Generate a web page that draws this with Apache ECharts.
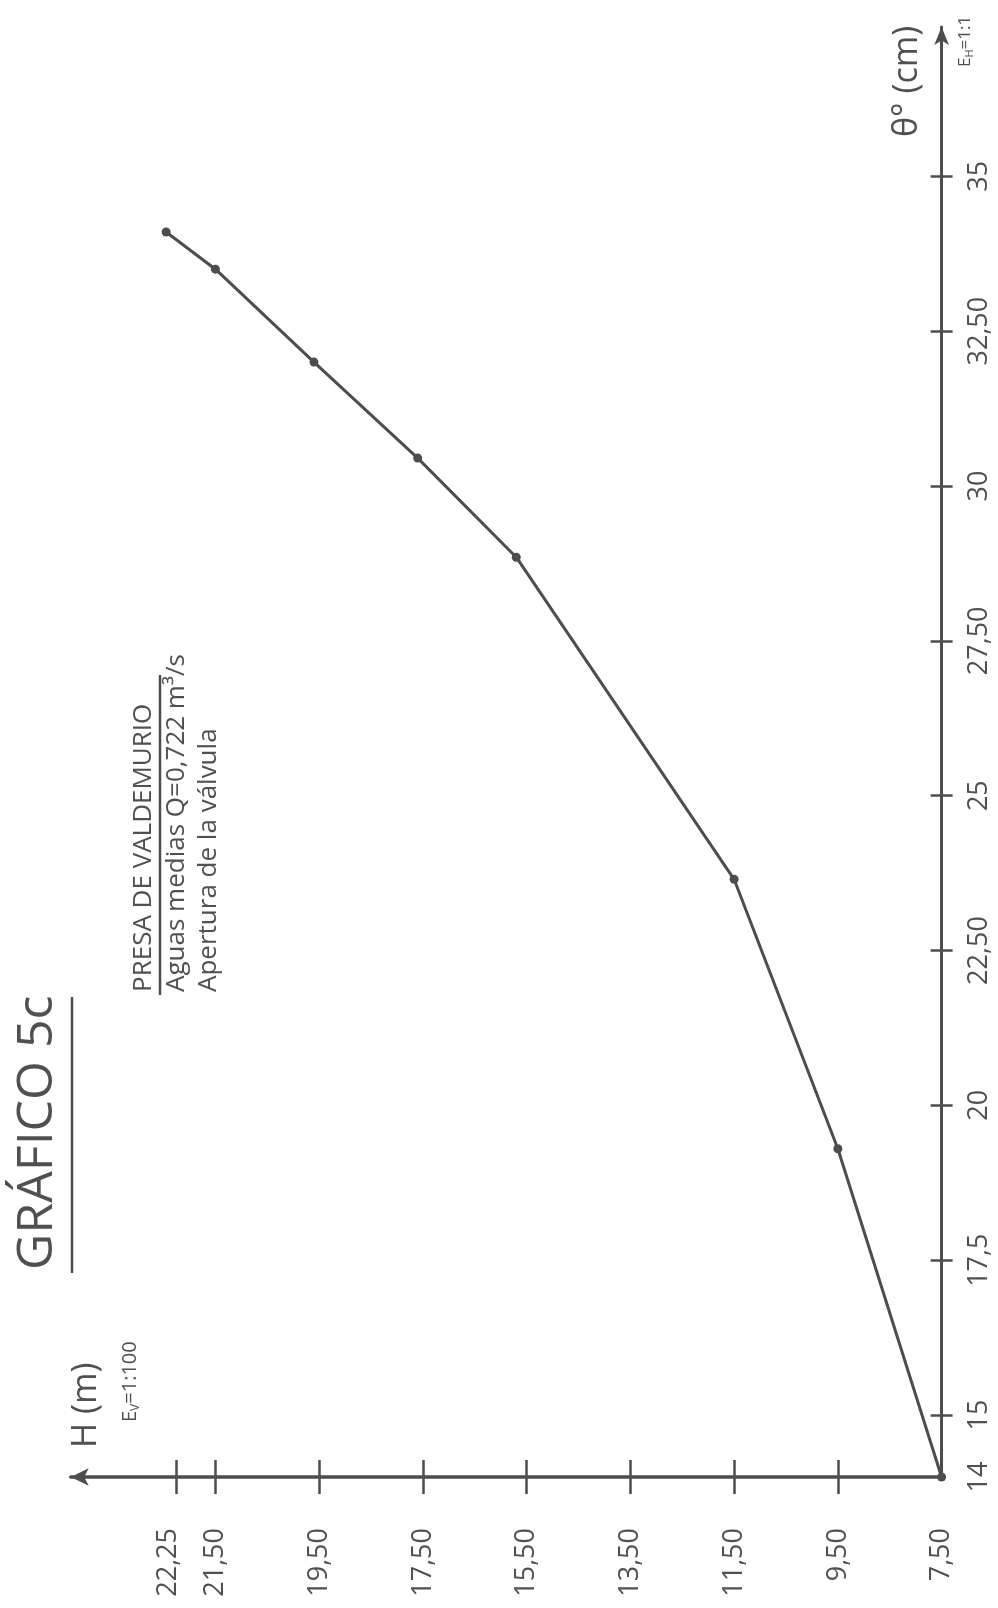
<!DOCTYPE html>
<html>
<head>
<meta charset="utf-8">
<script src="https://cdn.jsdelivr.net/npm/echarts@6/dist/echarts.min.js"></script>
<style>
  html, body { margin: 0; padding: 0; background: #ffffff; }
  #chart { width: 998px; height: 1608px; }
</style>
</head>
<body>
<div id="chart"></div>
<script>
// ---- data ----
const hValues = [7.5, 9.5, 11.5, 15.7, 17.6, 19.6, 21.5, 22.45];       // H (m)
const thetaValues = [14, 19.3, 23.65, 28.85, 30.45, 32.0, 33.5, 34.1]; // θ° (cm)

const hLabelValues = [7.5, 9.5, 11.5, 13.5, 15.5, 17.5, 19.5, 21.5, 22.25];
const hTickLabels = ['7,50', '9,50', '11,50', '13,50', '15,50', '17,50', '19,50', '21,50', '22,25'];
const hTickValues = [9.5, 11.5, 13.5, 15.5, 17.5, 19.5, 21.5, 22.25];

const thetaLabelValues = [14, 15, 17.5, 20, 22.5, 25, 27.5, 30, 32.5, 35];
const thetaTickLabels = ['14', '15', '17,5', '20', '22,50', '25', '27,50', '30', '32,50', '35'];
const thetaTickValues = [15, 17.5, 20, 22.5, 25, 27.5, 30, 32.5, 35];

const titleText = 'GRÁFICO 5c';
const subtitleLines = ['PRESA DE VALDEMURIO', 'Aguas medias Q=0,722 m³/s', 'Apertura de la válvula'];

// ---- style ----
const INK = '#4d4d4d';
const TXT = '#505050';
const FONT = '"Open Sans", "Noto Sans", sans-serif';

function findLabel(values, labels, v) {
  for (let i = 0; i < values.length; i++) {
    if (Math.abs(values[i] - v) < 1e-6) return labels[i];
  }
  return '';
}

const pairs = hValues.map((h, i) => [h, thetaValues[i]]);

const chart = echarts.init(document.getElementById('chart'), null, { renderer: 'canvas' });

const labelStyle = { color: TXT, fontFamily: FONT, fontSize: 27 };

const option = {
  backgroundColor: '#ffffff',
  animation: false,
  grid: { left: 70.7, right: 56.4, top: 27, bottom: 131, containLabel: false },
  xAxis: [
    {
      type: 'value', position: 'bottom', inverse: true,
      min: 7.5, max: 24.29,
      axisLine: { show: true, onZero: false, lineStyle: { color: INK, width: 3.5 },
                  symbol: ['arrow', 'none'], symbolSize: [13, 18] },
      axisTick: { show: true, inside: false, length: 17, customValues: hTickValues,
                  lineStyle: { color: INK, width: 2.5 } },
      axisLabel: Object.assign({}, labelStyle, {
        show: true, rotate: 90, margin: 51, customValues: hLabelValues,
        formatter: function (v) {
          const s = findLabel(hLabelValues, hTickLabels, v);
          return Math.abs(v - 22.25) < 1e-6 ? '{s|' + s + '}' : s;
        },
        rich: { s: { fontFamily: FONT, fontSize: 27, color: TXT, padding: [0, 0, 16, 0] } }
      }),
      splitLine: { show: false }
    },
    {
      type: 'value', position: 'bottom', inverse: true,
      min: 7.5, max: 24.29,
      axisLine: { show: false, onZero: false },
      axisTick: { show: true, inside: true, length: 17, customValues: hTickValues,
                  lineStyle: { color: INK, width: 2.5 } },
      axisLabel: { show: false },
      splitLine: { show: false }
    }
  ],
  yAxis: [
    {
      type: 'value', position: 'right',
      min: 14, max: 37.41,
      axisLine: { show: true, onZero: false, lineStyle: { color: INK, width: 3 },
                  symbol: ['none', 'arrow'], symbolSize: [11, 18] },
      axisTick: { show: true, inside: false, length: 11, customValues: thetaTickValues,
                  lineStyle: { color: INK, width: 2.5 } },
      axisLabel: Object.assign({}, labelStyle, {
        show: true, rotate: 90, margin: 24, customValues: thetaLabelValues,
        formatter: function (v) { return findLabel(thetaLabelValues, thetaTickLabels, v); }
      }),
      splitLine: { show: false }
    },
    {
      type: 'value', position: 'right',
      min: 14, max: 37.41,
      axisLine: { show: false, onZero: false },
      axisTick: { show: true, inside: true, length: 11, customValues: thetaTickValues,
                  lineStyle: { color: INK, width: 2.5 } },
      axisLabel: { show: false },
      splitLine: { show: false }
    }
  ],
  series: [
    {
      type: 'line',
      xAxisIndex: 0, yAxisIndex: 0,
      data: pairs,
      symbol: 'circle', symbolSize: 9,
      showSymbol: true,
      itemStyle: { color: INK },
      lineStyle: { color: INK, width: 3 },
      z: 5
    }
  ],
  graphic: [
    { type: 'text', x: 38, y: 1270, rotation: Math.PI / 2,
      style: { text: titleText, fill: TXT, font: '50px ' + FONT, align: 'left', verticalAlign: 'middle' } },
    { type: 'line', shape: { x1: 72, y1: 1273, x2: 72, y2: 997 },
      style: { stroke: INK, lineWidth: 2.5 } },

    { type: 'text', x: 143.5, y: 992, rotation: Math.PI / 2,
      style: { text: subtitleLines[0], fill: TXT, font: '26px ' + FONT, align: 'left', verticalAlign: 'middle' } },
    { type: 'line', shape: { x1: 160, y1: 995, x2: 160, y2: 675 },
      style: { stroke: INK, lineWidth: 2.5 } },
    { type: 'text', x: 177, y: 992, rotation: Math.PI / 2,
      style: { text: subtitleLines[1], fill: TXT, font: '26px ' + FONT, align: 'left', verticalAlign: 'middle' } },
    { type: 'text', x: 209, y: 992, rotation: Math.PI / 2,
      style: { text: subtitleLines[2], fill: TXT, font: '26px ' + FONT, align: 'left', verticalAlign: 'middle' } },

    { type: 'text', x: 86, y: 1448, rotation: Math.PI / 2,
      style: { text: 'H (m)', fill: TXT, font: '34px ' + FONT, align: 'left', verticalAlign: 'middle' } },
    { type: 'text', x: 130, y: 1422, rotation: Math.PI / 2,
      style: { text: 'E{sub|V}=1:100', fill: TXT, fontFamily: FONT, fontSize: 20, align: 'left', verticalAlign: 'middle',
               rich: { sub: { fontSize: 12, fontFamily: FONT, fill: TXT, verticalAlign: 'bottom', lineHeight: 24 } } } },

    { type: 'text', x: 907, y: 137, rotation: Math.PI / 2,
      style: { text: 'θ° (cm)', fill: TXT, font: '34px ' + FONT, align: 'left', verticalAlign: 'middle' } },
    { type: 'text', x: 965, y: 67, rotation: Math.PI / 2,
      style: { text: 'E{sub|H}=1:1', fill: TXT, fontFamily: FONT, fontSize: 17, align: 'left', verticalAlign: 'middle',
               rich: { sub: { fontSize: 11, fontFamily: FONT, fill: TXT, verticalAlign: 'bottom', lineHeight: 21 } } } }
  ]
};

chart.setOption(option);
</script>
</body>
</html>
